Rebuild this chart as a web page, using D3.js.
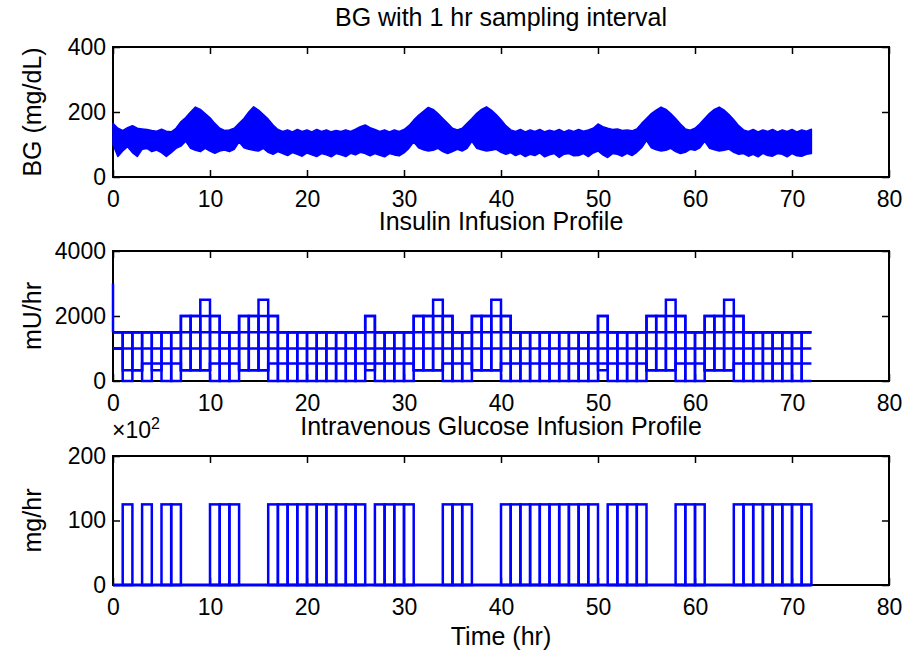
<!DOCTYPE html>
<html>
<head>
<meta charset="utf-8">
<script src="https://cdn.jsdelivr.net/npm/d3@7"></script>
<style>
  body { margin: 0; background: #fff; }
  svg text { font-family: "Liberation Sans", Arial, Helvetica, sans-serif; }
</style>
</head>
<body>
<script>
// ---- data ----
const xTicks = [0, 10, 20, 30, 40, 50, 60, 70, 80];

// BG band, half-hour samples from t = 0 to 72 hr: upper and lower edge of the overlaid traces
const bgStep = 0.5;
const bgUpper = [
  165,150, 143,152, 158,150, 148,146, 143,141, 147,141, 139,150, 170,183, 200,215, 208,195,
  182,165, 150,143, 145,150, 165,180, 200,216, 206,192, 178,160, 146,140, 145,139, 146,140,
  145,139, 146,140, 145,139, 143,140, 145,140, 147,155, 160,152, 146,140, 145,139, 145,140,
  146,158, 175,190, 202,214, 208,195, 180,165, 150,145, 150,165, 180,196, 208,216, 206,192,
  176,158, 145,140, 146,139, 145,140, 146,139, 144,140, 146,139, 145,140, 146,141, 145,150,
  163,155, 150,146, 148,143, 145,142, 148,165, 180,195, 206,215, 208,195, 180,163, 148,144,
  150,164, 180,196, 208,215, 206,192, 176,158, 145,140, 146,139, 145,140, 146,139, 145,140,
  146,139, 145,141, 147
];
const bgLower = [
  100,63, 80,93, 75,63, 85,88, 78,83, 75,63, 75,88, 95,110, 88,82, 78,88,
  80,73, 80,83, 78,85, 108,90, 85,82, 80,88, 76,70, 78,72, 66,75, 70,64,
  74,68, 63,72, 68,62, 72,68, 63,73, 68,76, 72,65, 72,67, 62,72, 68,65,
  74,88, 108,90, 84,80, 82,88, 78,72, 78,85, 80,88, 110,88, 84,80, 82,85,
  76,70, 75,66, 72,63, 70,66, 74,62, 68,72, 60,70, 72,65, 66,72, 63,74,
  80,68, 60,72, 70,64, 73,66, 76,90, 112,90, 84,80, 82,88, 78,72, 76,85,
  82,90, 110,88, 84,80, 82,86, 76,70, 72,64, 70,62, 73,66, 64,72, 70,62,
  72,65, 64,70, 72
];

// insulin rates (mU/hr), one value per hour 0..71, several overlaid traces
const insA = [
  1500,0,1500,0,1500,0,1500,330,2000,330,
  2000,0,1500,330,2000,330,2000,0,1500,0,
  1500,0,1500,0,1500,0,2000,0,1500,0,
  1500,330,2000,330,2000,0,1500,330,2000,330,
  2000,0,1500,0,1500,0,1500,0,1500,0,
  2000,0,1500,0,1500,330,2000,330,2000,0,
  1500,330,2000,330,2000,0,1500,0,1500,0,
  1500,0
];
const insB = [
  1000,1500,330,1500,330,1500,0,2000,330,2500,
  0,1500,0,2000,330,2500,0,1500,0,1500,
  0,1500,0,1500,0,1500,330,1500,0,1500,
  0,2000,330,2500,0,1500,0,2000,330,2500,
  0,1500,0,1500,0,1500,0,1500,0,1500,
  330,1500,0,1500,0,2000,330,2500,0,1500,
  0,2000,330,2500,0,1500,0,1500,0,1500,
  0,1500
];
const insC = [
  1500,1500,1500,1500,1500,1500,1500,2000,2000,2000,
  2000,1500,1500,2000,2000,2000,2000,1500,1500,1500,
  1500,1500,1500,1500,1500,1500,2000,1500,1500,1500,
  1500,2000,2000,2000,2000,1500,1500,2000,2000,2000,
  2000,1500,1500,1500,1500,1500,1500,1500,1500,1500,
  2000,1500,1500,1500,1500,2000,2000,2000,2000,1500,
  1500,2000,2000,2000,2000,1500,1500,1500,1500,1500,
  1500,1500
];
const insD = [
  1000,330,330,540,540,540,540,330,330,330,
  540,540,540,330,330,330,540,540,540,540,
  540,540,540,540,540,540,540,540,540,540,
  540,330,330,330,540,540,540,330,330,330,
  540,540,540,540,540,540,540,540,540,540,
  540,540,540,540,540,330,330,330,540,540,
  540,330,330,330,540,540,540,540,540,540,
  540,540
];
const insFlat = [1500, 1000];     // traces that stay level for the whole run
const insBolus = [3000, 1500];    // step at t = 0

// IV glucose rate (mg/hr), one value per hour 0..71
const gluRate = [
  0,12500,0,12500,0,12500,12500,0,0,0,
  12500,12500,12500,0,0,0,12500,12500,12500,12500,
  12500,12500,12500,12500,12500,12500,0,12500,12500,12500,
  12500,0,0,0,12500,12500,12500,0,0,0,
  12500,12500,12500,12500,12500,12500,12500,12500,12500,12500,
  0,12500,12500,12500,12500,0,0,0,12500,12500,
  12500,0,0,0,12500,12500,12500,12500,12500,12500,
  12500,12500
];

// ---- layout ----
const W = 909, H = 662;
const left = 113, right = 889;
const blue = "#0000ff";
const fs = 23, fsLab = 25;

const svg = d3.select("body").append("svg")
  .attr("width", W)
  .attr("height", H);
svg.append("rect").attr("width", W).attr("height", H).attr("fill", "#fff");

const x = d3.scaleLinear().domain([0, 80]).range([left, right]);

function panel(top, bottom, ymax, yTicks, title, ylabel, yFmt) {
  const y = d3.scaleLinear().domain([0, ymax]).range([bottom, top]);
  const g = svg.append("g");

  g.append("rect")
    .attr("x", left).attr("y", top)
    .attr("width", right - left).attr("height", bottom - top)
    .attr("fill", "none").attr("stroke", "#000").attr("stroke-width", 2);

  const style = function(a) {
    a.select(".domain").remove();
    a.selectAll("line").attr("stroke", "#000").attr("stroke-width", 1.5);
    a.selectAll("text").attr("fill", "#000").style("font-size", fs + "px");
  };

  g.append("g")
    .attr("transform", "translate(0," + bottom + ")")
    .call(d3.axisBottom(x).tickValues(xTicks).tickSize(-7).tickPadding(14).tickFormat(d3.format("d")))
    .call(style);
  g.append("g")
    .attr("transform", "translate(0," + top + ")")
    .call(d3.axisTop(x).tickValues(xTicks).tickSize(-7).tickFormat(""))
    .call(style);
  g.append("g")
    .attr("transform", "translate(" + left + ",0)")
    .call(d3.axisLeft(y).tickValues(yTicks).tickSize(-7).tickPadding(7).tickFormat(yFmt))
    .call(style);
  g.append("g")
    .attr("transform", "translate(" + right + ",0)")
    .call(d3.axisRight(y).tickValues(yTicks).tickSize(-7).tickFormat(""))
    .call(style);

  svg.append("text")
    .attr("x", (left + right) / 2).attr("y", top - 21)
    .attr("text-anchor", "middle")
    .style("font-size", fsLab + "px")
    .text(title);

  svg.append("text")
    .attr("transform", "translate(41," + (top + bottom) / 2 + ") rotate(-90)")
    .attr("text-anchor", "middle")
    .style("font-size", fsLab + "px")
    .text(ylabel);

  return {g: g, y: y};
}

function stairs(vals) {
  const pts = vals.map(function(v, i) { return [i, v]; });
  pts.push([vals.length, vals[vals.length - 1]]);
  return pts;
}

// ---- BG ----
const p1 = panel(47, 177, 400, [0, 200, 400], "BG with 1 hr sampling interval", "BG (mg/dL)", d3.format("d"));
const bgArea = d3.area()
  .x(function(d, i) { return x(i * bgStep); })
  .y0(function(d, i) { return p1.y(bgLower[i]); })
  .y1(function(d) { return p1.y(d); });
p1.g.append("path")
  .datum(bgUpper)
  .attr("d", bgArea)
  .attr("fill", blue)
  .attr("stroke", blue)
  .attr("stroke-width", 1.5)
  .attr("stroke-linejoin", "round");

// ---- insulin ----
const p2 = panel(251, 381, 4000, [0, 2000, 4000], "Insulin Infusion Profile", "mU/hr", d3.format("d"));
const insLine = d3.line()
  .x(function(d) { return x(d[0]); })
  .y(function(d) { return p2.y(d[1]); })
  .curve(d3.curveStepAfter);
const hours = insA.length;
[insD, insC, insB, insA].forEach(function(s) {
  p2.g.append("path")
    .datum(stairs(s))
    .attr("d", insLine)
    .attr("fill", "none")
    .attr("stroke", blue)
    .attr("stroke-width", 2.5);
});
insFlat.forEach(function(v) {
  p2.g.append("path")
    .datum([[0, v], [hours, v]])
    .attr("d", d3.line().x(function(d) { return x(d[0]); }).y(function(d) { return p2.y(d[1]); }))
    .attr("stroke", blue)
    .attr("stroke-width", 2.5);
});
p2.g.append("path")
  .datum(insBolus.map(function(v) { return [0, v]; }))
  .attr("d", d3.line().x(function(d) { return x(d[0]); }).y(function(d) { return p2.y(d[1]); }))
  .attr("stroke", blue)
  .attr("stroke-width", 2.5);

// ---- glucose ----
const p3 = panel(456, 585, 20000, [0, 10000, 20000], "Intravenous Glucose Infusion Profile", "mg/hr",
  function(d) { return d / 100; });
p3.g.append("path")
  .datum([[0, 0], [gluRate.length, 0]])
  .attr("d", d3.line().x(function(d) { return x(d[0]); }).y(function(d) { return p3.y(d[1]); }))
  .attr("stroke", blue)
  .attr("stroke-width", 3);
p3.g.selectAll(".pulse")
  .data(gluRate.map(function(v, i) { return {t: i, v: v}; }).filter(function(d) { return d.v > 0; }))
  .enter()
  .append("rect")
  .attr("class", "pulse")
  .attr("x", function(d) { return x(d.t); })
  .attr("width", function(d) { return x(d.t + 1) - x(d.t); })
  .attr("y", function(d) { return p3.y(d.v); })
  .attr("height", function(d) { return p3.y(0) - p3.y(d.v); })
  .attr("fill", "none")
  .attr("stroke", blue)
  .attr("stroke-width", 2.5);

const mult = svg.append("text")
  .attr("x", 112).attr("y", 438)
  .style("font-size", fs + "px");
mult.append("tspan").text("×10");
mult.append("tspan").attr("dy", -9).style("font-size", "16px").text("2");

svg.append("text")
  .attr("x", (left + right) / 2).attr("y", 645)
  .attr("text-anchor", "middle")
  .style("font-size", fsLab + "px")
  .text("Time (hr)");
</script>
</body>
</html>
